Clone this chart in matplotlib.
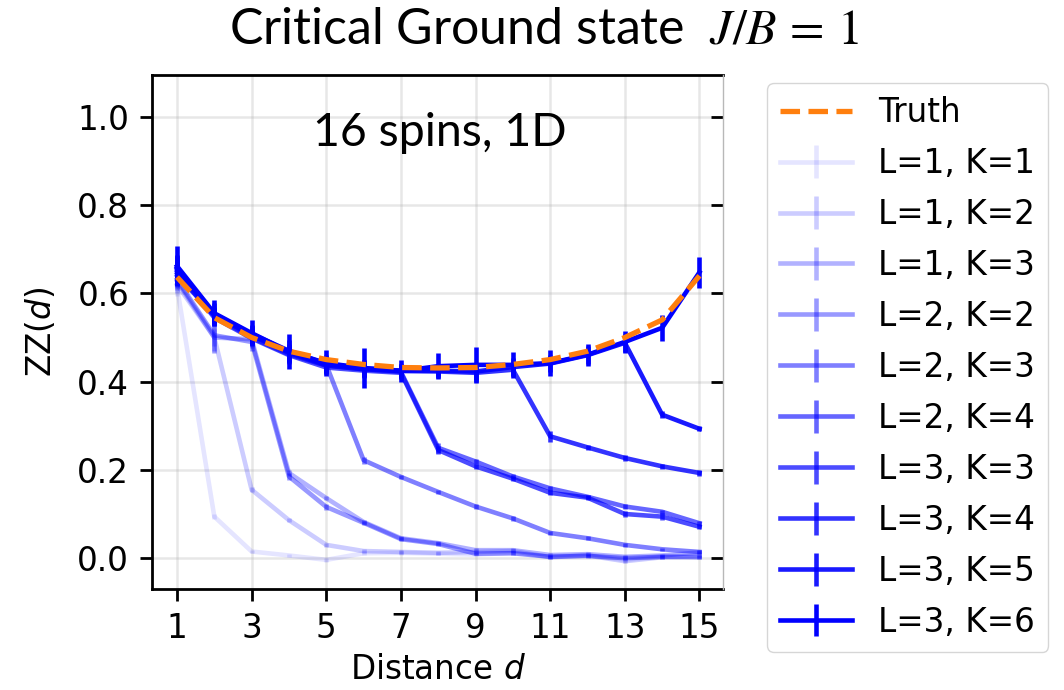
import matplotlib
matplotlib.use("Agg")
import matplotlib.pyplot as plt

plt.rcParams['font.family'] = ['DejaVu Sans']
plt.rcParams['mathtext.fontset'] = 'stix'

# ---------------- data ----------------
distance = [1, 2, 3, 4, 5, 6, 7, 8, 9, 10, 11, 12, 13, 14, 15]

truth = [0.637, 0.545, 0.500, 0.469, 0.450, 0.439, 0.432, 0.431, 0.432, 0.439, 0.450, 0.469, 0.500, 0.540, 0.640]

labels = ["L=1, K=1", "L=1, K=2", "L=1, K=3", "L=2, K=2", "L=2, K=3",
          "L=2, K=4", "L=3, K=3", "L=3, K=4", "L=3, K=5", "L=3, K=6"]

zz_L1K1 = [0.615, 0.094, 0.015, 0.006, -0.004, 0.011, 0.012, 0.010, 0.008, 0.012, 0.004, 0.007, -0.004, 0.004, 0.006]
zz_L1K2 = [0.620, 0.500, 0.155, 0.086, 0.030, 0.016, 0.014, 0.012, 0.014, 0.016, 0.002, 0.006, -0.007, 0.002, 0.004]
zz_L1K3 = [0.628, 0.500, 0.496, 0.193, 0.136, 0.082, 0.045, 0.034, 0.018, 0.018, 0.007, 0.009, 0.003, 0.006, 0.013]
zz_L2K2 = [0.632, 0.505, 0.490, 0.185, 0.116, 0.080, 0.043, 0.032, 0.010, 0.011, 0.003, 0.005, 0.000, 0.003, 0.002]
zz_L2K3 = [0.640, 0.552, 0.505, 0.468, 0.438, 0.222, 0.184, 0.150, 0.117, 0.090, 0.057, 0.045, 0.030, 0.020, 0.014]
zz_L2K4 = [0.645, 0.548, 0.500, 0.462, 0.436, 0.428, 0.422, 0.250, 0.219, 0.185, 0.158, 0.139, 0.117, 0.105, 0.079]
zz_L3K3 = [0.650, 0.545, 0.498, 0.460, 0.432, 0.425, 0.420, 0.245, 0.208, 0.180, 0.148, 0.137, 0.100, 0.094, 0.071]
zz_L3K4 = [0.655, 0.550, 0.505, 0.465, 0.437, 0.428, 0.424, 0.423, 0.420, 0.427, 0.276, 0.251, 0.227, 0.208, 0.193]
zz_L3K5 = [0.658, 0.553, 0.508, 0.470, 0.440, 0.430, 0.425, 0.425, 0.423, 0.433, 0.441, 0.460, 0.488, 0.325, 0.293]
zz_L3K6 = [0.662, 0.555, 0.510, 0.468, 0.442, 0.431, 0.424, 0.435, 0.438, 0.438, 0.442, 0.461, 0.490, 0.522, 0.648]

err_L1K1 = [0.020, 0.006, 0.004, 0.004, 0.004, 0.004, 0.004, 0.004, 0.004, 0.004, 0.004, 0.004, 0.004, 0.004, 0.004]
err_L1K2 = [0.020, 0.020, 0.006, 0.005, 0.004, 0.004, 0.004, 0.004, 0.004, 0.004, 0.004, 0.004, 0.004, 0.004, 0.004]
err_L1K3 = [0.020, 0.030, 0.020, 0.006, 0.005, 0.004, 0.004, 0.004, 0.004, 0.004, 0.004, 0.004, 0.004, 0.004, 0.004]
err_L2K2 = [0.020, 0.040, 0.020, 0.008, 0.006, 0.005, 0.004, 0.004, 0.004, 0.004, 0.004, 0.004, 0.004, 0.004, 0.004]
err_L2K3 = [0.020, 0.015, 0.015, 0.015, 0.015, 0.008, 0.005, 0.005, 0.005, 0.005, 0.004, 0.004, 0.004, 0.004, 0.004]
err_L2K4 = [0.025, 0.020, 0.015, 0.020, 0.015, 0.015, 0.015, 0.012, 0.006, 0.005, 0.005, 0.005, 0.006, 0.005, 0.006]
err_L3K3 = [0.025, 0.020, 0.015, 0.020, 0.015, 0.015, 0.015, 0.010, 0.006, 0.005, 0.006, 0.005, 0.006, 0.008, 0.006]
err_L3K4 = [0.030, 0.020, 0.020, 0.020, 0.020, 0.020, 0.015, 0.015, 0.020, 0.015, 0.012, 0.006, 0.006, 0.005, 0.006]
err_L3K5 = [0.030, 0.025, 0.020, 0.025, 0.020, 0.020, 0.015, 0.015, 0.020, 0.020, 0.020, 0.020, 0.020, 0.008, 0.006]
err_L3K6 = [0.045, 0.030, 0.030, 0.040, 0.030, 0.045, 0.025, 0.030, 0.040, 0.030, 0.030, 0.025, 0.025, 0.030, 0.035]

series = [zz_L1K1, zz_L1K2, zz_L1K3, zz_L2K2, zz_L2K3, zz_L2K4, zz_L3K3, zz_L3K4, zz_L3K5, zz_L3K6]
errors = [err_L1K1, err_L1K2, err_L1K3, err_L2K2, err_L2K3, err_L2K4, err_L3K3, err_L3K4, err_L3K5, err_L3K6]
alphas = [0.1, 0.2, 0.3, 0.4, 0.5, 0.6, 0.7, 0.8, 0.9, 1.0]

xticks = [1, 3, 5, 7, 9, 11, 13, 15]
yticks = [0.0, 0.2, 0.4, 0.6, 0.8, 1.0]

# ---------------- figure ----------------
W, H = 1064, 690
fig = plt.figure(figsize=(W / 100, H / 100), dpi=100)
ax = fig.add_axes([152 / W, 1 - 589 / H, (723 - 152) / W, (589 - 75) / H])

FS = 23.5
handles = []
truth_line, = ax.plot(distance, truth, '--', color='#ff7f0e', lw=3.8, zorder=10, label='Truth')
handles.append(truth_line)
for vals, errs, a, lab in zip(series, errors, alphas, labels):
    h = ax.errorbar(distance, vals, yerr=errs, color='blue', alpha=a, lw=3.3,
                    elinewidth=3.3, capsize=0, label=lab)
    handles.append(h)

ax.set_xlim(0.33, 15.63)
ax.set_ylim(-0.07, 1.095)
ax.set_xticks(xticks)
ax.set_yticks(yticks)
ax.set_yticklabels([f"{v:.1f}" for v in yticks])
ax.grid(True, color='#b0b0b0', alpha=0.3, lw=1.8)
ax.set_axisbelow(True)
ax.tick_params(labelsize=FS, length=8.4, width=2, pad=8)
for s in ['left', 'bottom', 'top']:
    ax.spines[s].set_linewidth(2)
ax.spines['right'].set_visible(False)

ax.set_xlabel('Distance $\\mathit{d}$', fontsize=FS, labelpad=6,
              math_fontfamily='dejavusans')
ax.set_ylabel('ZZ($\\mathit{d}$)', fontsize=FS, labelpad=14,
              math_fontfamily='dejavusans')

# right-hand inward ticks and thin grey right edge
ax2 = ax.twinx()
ax2.set_ylim(ax.get_ylim())
ax2.set_yticks(yticks)
ax2.tick_params(axis='y', direction='in', length=8.4, width=2, labelright=False)
for s in ['left', 'bottom', 'top']:
    ax2.spines[s].set_visible(False)
ax2.spines['right'].set_color('#b8b8b8')
ax2.spines['right'].set_linewidth(1)

ax.text(0.504, 0.887, '16 spins, 1D', transform=ax.transAxes, ha='center',
        va='center', fontsize=33.5, family='Lato')

fig.text(544 / W, 1 - 30 / H, 'Critical Ground state  $J/B\\,=\\,1$', ha='center',
         va='center', fontsize=36, family='Lato')

fig.legend(handles=handles, loc='upper left',
           bbox_to_anchor=(767 / W, 1 - 83 / H), borderaxespad=0,
           fontsize=FS, handlelength=2.2, labelspacing=0.55,
           handletextpad=0.8, frameon=True)

fig.savefig('out.png', dpi=100)
